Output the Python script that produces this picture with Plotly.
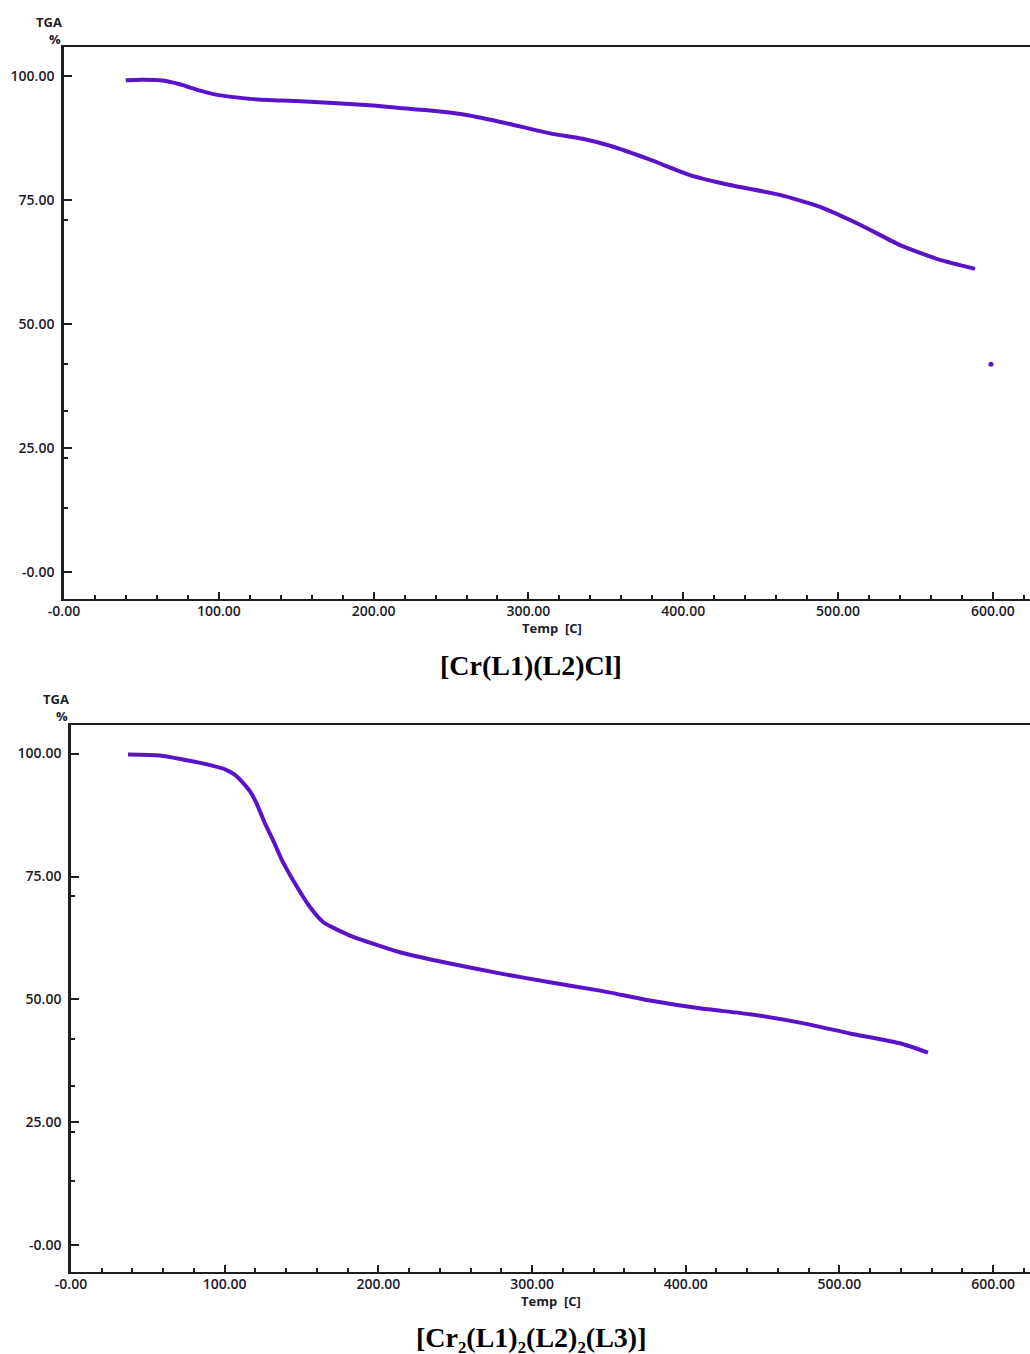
import plotly.graph_objects as go

# ---- Data: panel 1 [Cr(L1)(L2)Cl] ----
temp1 = [39.9, 50.0, 62.0, 75.0, 87.9, 100.0, 122.0, 150.0, 173.8, 200.0, 217.0, 240.0, 260.0,
         285.0, 314.0, 335.0, 352.7, 378.6, 404.4, 430.2, 462.5, 488.4, 514.2, 540.0, 565.9, 588.5]
tga1 = [99.1, 99.2, 99.1, 98.3, 97.0, 96.1, 95.3, 94.9, 94.5, 94.0, 93.5, 92.9, 92.1,
        90.5, 88.4, 87.3, 85.9, 83.1, 80.0, 78.0, 76.0, 73.6, 70.0, 65.9, 62.9, 61.1]
stray_temp1 = [598.8]
stray_tga1 = [41.9]

# ---- Data: panel 2 [Cr2(L1)2(L2)2(L3)] ----
temp2 = [37.1, 57.9, 84.0, 100.2, 106.0, 111.5, 116.5, 120.8, 126.2, 131.6, 137.0, 144.6, 155.5,
         164.2, 181.5, 214.0, 246.6, 279.0, 311.6, 344.2, 376.7, 409.2, 441.8, 474.3, 506.8, 539.4, 557.6]
tga2 = [99.8, 99.6, 98.1, 96.8, 95.8, 94.2, 92.3, 89.8, 85.8, 82.3, 78.5, 74.2, 68.8,
        65.7, 63.0, 59.6, 57.3, 55.3, 53.5, 51.8, 49.8, 48.2, 47.0, 45.3, 43.1, 41.1, 39.2]

x_ticks = [0, 100, 200, 300, 400, 500, 600]
x_ticktext = ["-0.00", "100.00", "200.00", "300.00", "400.00", "500.00", "600.00"]
y_ticks = [0, 25, 50, 75, 100]
y_ticktext = ["-0.00", "25.00", "50.00", "75.00", "100.00"]
y_minor = [13, 23, 32.5, 42, 71]

captions = ["[Cr(L1)(L2)Cl]", "[Cr₂(L1)₂(L2)₂(L3)]"]

W, H = 1030, 1354
LINE = "#5a14c8"
AX = "#1e1e1e"
tickfont = dict(family="Open Sans", size=14, color="#1b1b2b", weight=600)

fig = go.Figure()
fig.add_trace(go.Scatter(x=temp1, y=tga1, mode="lines",
                         line=dict(color=LINE, width=4, shape="spline", smoothing=0.5),
                         xaxis="x", yaxis="y", showlegend=False))
fig.add_trace(go.Scatter(x=stray_temp1, y=stray_tga1, mode="markers", marker=dict(color=LINE, size=5),
                         xaxis="x", yaxis="y", showlegend=False))
fig.add_trace(go.Scatter(x=temp2, y=tga2, mode="lines",
                         line=dict(color=LINE, width=4, shape="spline", smoothing=0.5),
                         xaxis="x2", yaxis="y2", showlegend=False))

def py(p):
    return (H - p) / H

def xaxis(domain, anchor):
    return dict(domain=domain, anchor=anchor, range=[0, 624], showgrid=False, zeroline=False,
                automargin=False,
                showline=True, linecolor=AX, linewidth=2, mirror=True,
                tickmode="array", tickvals=x_ticks, ticktext=x_ticktext,
                ticks="inside", ticklen=7, tickwidth=2, tickcolor=AX, tickfont=tickfont,
                ticklabelstandoff=-2,
                minor=dict(dtick=20, tick0=0, ticks="inside", ticklen=4, tickwidth=2, tickcolor=AX, showgrid=False))

def yaxis(domain, anchor):
    return dict(domain=domain, anchor=anchor, range=[-5.4, 105.8], showgrid=False, zeroline=False,
                automargin=False,
                showline=True, linecolor=AX, linewidth=2.5, mirror=False,
                tickmode="array", tickvals=y_ticks, ticktext=y_ticktext,
                ticks="inside", ticklen=8, tickwidth=2, tickcolor=AX, tickfont=tickfont,
                ticklabelstandoff=4,
                minor=dict(tickmode="array", tickvals=y_minor, ticks="inside", ticklen=4, tickwidth=2,
                           tickcolor=AX, showgrid=False))

fig.update_layout(
    width=W, height=H, margin=dict(l=0, r=0, t=0, b=0, autoexpand=False),
    paper_bgcolor="white", plot_bgcolor="white",
    xaxis=xaxis([64 / W, 1], "y"),
    yaxis=yaxis([py(599), py(47)], "x"),
    xaxis2=xaxis([71 / W, 1], "y2"),
    yaxis2=yaxis([py(1272), py(725)], "x2"),
)

lab = dict(family="Open Sans", size=13, color="#1b1b2b", weight=700)
annots = [
    dict(text="TGA", x=64 / W, y=py(22), xanchor="right", yanchor="middle", font=lab),
    dict(text="%", x=63 / W, y=py(39), xanchor="right", yanchor="middle", font=lab),
    dict(text="Temp  [C]", x=552 / W, y=py(628), xanchor="center", yanchor="middle", font=lab),
    dict(text="TGA", x=71 / W, y=py(699), xanchor="right", yanchor="middle", font=lab),
    dict(text="%", x=70 / W, y=py(716), xanchor="right", yanchor="middle", font=lab),
    dict(text="Temp  [C]", x=551 / W, y=py(1301), xanchor="center", yanchor="middle", font=lab),
    dict(text="<b>" + captions[0] + "</b>", x=531 / W, y=py(665), xanchor="center", yanchor="middle",
         font=dict(family="Liberation Serif", size=28, color="black")),
    dict(text="<b>" + captions[1] + "</b>", x=531 / W, y=py(1337), xanchor="center", yanchor="middle",
         font=dict(family="Liberation Serif", size=28, color="black")),
]
for a in annots:
    a.update(xref="paper", yref="paper", showarrow=False)
fig.update_layout(annotations=annots)

fig.write_html("out.html")
